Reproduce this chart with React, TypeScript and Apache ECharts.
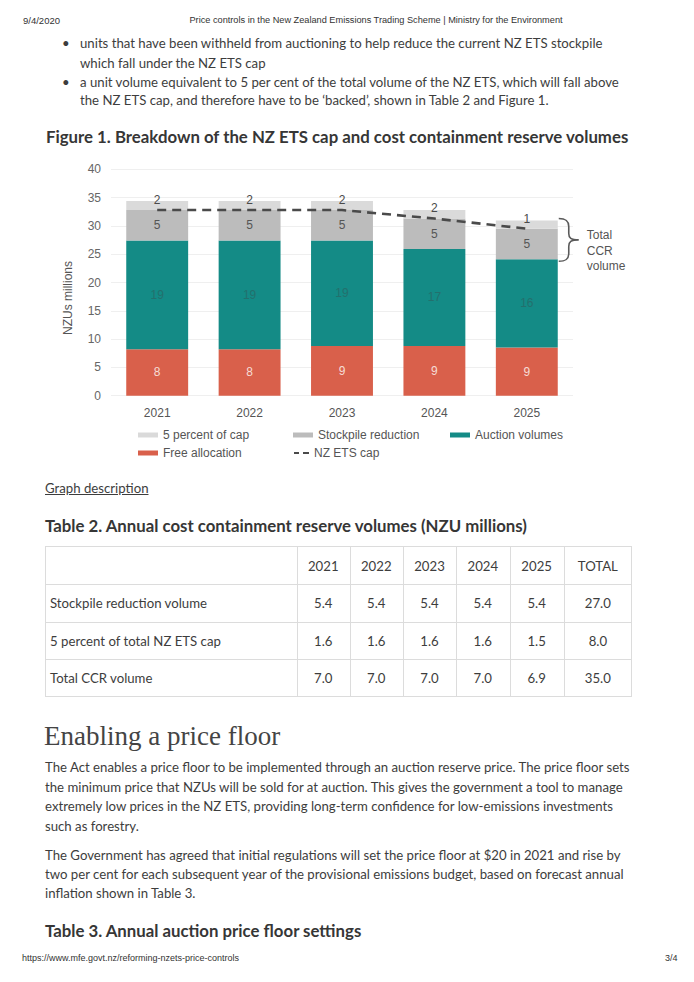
import React, { useEffect, useRef } from "react";
import * as echarts from "echarts";

// ---------- chart data ----------
const years = ["2021", "2022", "2023", "2024", "2025"];
const freeAllocation = [8.2, 8.2, 8.8, 8.8, 8.5];
const auctionVolumes = [19.2, 19.2, 18.6, 17.1, 15.6];
const stockpileReduction = [5.4, 5.4, 5.4, 5.4, 5.4];
const fivePercentOfCap = [1.6, 1.6, 1.6, 1.5, 1.45];
const nzEtsCap = [32.8, 32.8, 32.8, 31.3, 29.5];

// ---------- table data ----------
const tableHeaders = ["2021", "2022", "2023", "2024", "2025", "TOTAL"];
const rowLabels = ["Stockpile reduction volume", "5 percent of total NZ ETS cap", "Total CCR volume"];
const stockpileRow = ["5.4", "5.4", "5.4", "5.4", "5.4", "27.0"];
const fivePctRow = ["1.6", "1.6", "1.6", "1.6", "1.5", "8.0"];
const totalRow = ["7.0", "7.0", "7.0", "7.0", "6.9", "35.0"];

// ---------- text ----------
const headerDate = "9/4/2020";
const headerTitle = "Price controls in the New Zealand Emissions Trading Scheme | Ministry for the Environment";
const bulletLines = [
  ["units that have been withheld from auctioning to help reduce the current NZ ETS stockpile", "which fall under the NZ ETS cap"],
  ["a unit volume equivalent to 5 per cent of the total volume of the NZ ETS, which will fall above", "the NZ ETS cap, and therefore have to be \u2018backed\u2019, shown in Table 2 and Figure 1."],
];
const para1 = [
  "The Act enables a price floor to be implemented through an auction reserve price. The price floor sets",
  "the minimum price that NZUs will be sold for at auction. This gives the government a tool to manage",
  "extremely low prices in the NZ ETS, providing long-term confidence for low-emissions investments",
  "such as forestry.",
];
const para2 = [
  "The Government has agreed that initial regulations will set the price floor at $20 in 2021 and rise by",
  "two per cent for each subsequent year of the provisional emissions budget, based on forecast annual",
  "inflation shown in Table 3.",
];

const SANS = "Lato, 'Noto Sans', sans-serif";
const ARIAL = "'Liberation Sans', Arial, sans-serif";
const TXT = "#3d3d3d";

const BRACE_D = "M0,0 C7,0 10,2 10,8 L10,15 C10,19.5 12,21.5 20,21.5 C12,21.5 10,23.5 10,28 L10,35 C10,41 7,43 0,43";
echarts.graphic.registerShape("brace", echarts.graphic.extendPath(BRACE_D, {}));

function Line({ x, y, size, text, font = SANS, weight = 400, color = TXT, h, style = {} }: any) {
  const lh = h || Math.round(size * 1.4);
  return (
    <div
      style={{
        position: "absolute",
        left: x,
        top: y - lh / 2,
        height: lh,
        lineHeight: lh + "px",
        fontSize: size,
        fontFamily: font,
        fontWeight: weight,
        color,
        whiteSpace: "nowrap",
        ...style,
      }}
    >
      {text}
    </div>
  );
}

function Chart() {
  const ref = useRef<HTMLDivElement>(null);
  useEffect(() => {
    if (!ref.current) return;
    const chart = echarts.init(ref.current, null, { renderer: "svg" });
    const round = (p: any) => String(Math.round(p.value));
    const legendText = { color: "#555", fontSize: 12, fontFamily: ARIAL };
    const mkLegend = (name: string, left: number, top: number, extra: any = {}) => ({
      data: [name],
      left,
      top,
      padding: 0,
      itemWidth: 20,
      itemHeight: 5,
      textStyle: legendText,
      selectedMode: false,
      ...extra,
    });
    chart.setOption({
      animation: false,
      grid: { left: 111, right: 121, top: 19.3, height: 226.4 },
      legend: [
        mkLegend("5 percent of cap", 138, 279, { icon: "rect" }),
        mkLegend("Stockpile reduction", 293, 279, { icon: "rect" }),
        mkLegend("Auction volumes", 450, 279, { icon: "rect" }),
        mkLegend("Free allocation", 138, 297, { icon: "rect" }),
        mkLegend("NZ ETS cap", 294, 297, {
          icon: "path://M0,0h5v2h-5z M9,0h6v2h-6z",
          itemWidth: 15,
          itemHeight: 2.5,
        }),
      ],
      xAxis: {
        type: "category",
        data: years,
        axisLine: { show: false },
        axisTick: { show: false },
        axisLabel: { color: "#555", fontSize: 12, fontFamily: ARIAL, margin: 11 },
      },
      yAxis: {
        type: "value",
        min: 0,
        max: 40,
        interval: 5,
        axisLabel: { color: "#666", fontSize: 12, fontFamily: ARIAL, margin: 10 },
        splitLine: { lineStyle: { color: "#efefef" } },
      },
      series: [
        {
          name: "Free allocation",
          type: "bar",
          stack: "cap",
          barCategoryGap: "33%",
          data: freeAllocation,
          itemStyle: { color: "#d9604b" },
          label: { show: true, position: "inside", color: "#f6dcd5", fontSize: 12, fontFamily: ARIAL, formatter: round },
        },
        {
          name: "Auction volumes",
          type: "bar",
          stack: "cap",
          data: auctionVolumes,
          itemStyle: { color: "#148b86" },
          label: { show: true, position: "inside", color: "#23706d", fontSize: 12, fontFamily: ARIAL, formatter: round },
        },
        {
          name: "Stockpile reduction",
          type: "bar",
          stack: "cap",
          data: stockpileReduction,
          itemStyle: { color: "#bcbcbc" },
          label: { show: true, position: "inside", color: "#555", fontSize: 12, fontFamily: ARIAL, formatter: round },
        },
        {
          name: "5 percent of cap",
          type: "bar",
          stack: "cap",
          data: fivePercentOfCap,
          itemStyle: { color: "#dadada" },
          label: {
            show: true,
            position: "inside",
            offset: [0, -6],
            color: "#4a4a4a",
            fontSize: 12,
            fontFamily: ARIAL,
            formatter: round,
          },
        },
        {
          name: "NZ ETS cap",
          type: "line",
          data: nzEtsCap,
          symbol: "none",
          z: 10,
          itemStyle: { color: "#4a4a4a" },
          lineStyle: { color: "#4a4a4a", width: 2.6, type: [9, 6] },
        },
      ],
    });

    // annotation: brace round the CCR part of the last bar
    const last = years.length - 1;
    const cA = chart.convertToPixel({ xAxisIndex: 0, yAxisIndex: 0 }, [years[last - 1], 0]) as number[];
    const cB = chart.convertToPixel({ xAxisIndex: 0, yAxisIndex: 0 }, [years[last], 0]) as number[];
    const band = cB[0] - cA[0];
    const topVal = freeAllocation[last] + auctionVolumes[last] + stockpileReduction[last] + fivePercentOfCap[last];
    const botVal = freeAllocation[last] + auctionVolumes[last];
    const yTop = (chart.convertToPixel({ yAxisIndex: 0 }, topVal) as number) - 2;
    const yBot = (chart.convertToPixel({ yAxisIndex: 0 }, botVal) as number) + 2;
    const bx = cB[0] + band * 0.335 + 1;
    chart.setOption({
      graphic: [
        {
          type: "brace",
          x: bx,
          y: yTop,
          scaleX: 1,
          scaleY: (yBot - yTop) / 43,
          style: { fill: "none", stroke: "#5a5a5a", lineWidth: 1.6 },
        },
        {
          type: "text",
          x: bx + 28,
          y: yTop + 9,
          style: {
            text: "Total\nCCR\nvolume",
            fill: "#555",
            fontSize: 12,
            fontFamily: ARIAL,
            lineHeight: 15.5,
            verticalAlign: "top",
          },
        },
        {
          type: "text",
          x: 68,
          y: 148,
          rotation: Math.PI / 2,
          style: {
            text: "NZUs millions",
            fill: "#555",
            fontSize: 12,
            fontFamily: ARIAL,
            align: "center",
            verticalAlign: "middle",
          },
        },
      ],
    });
    return () => chart.dispose();
  }, []);
  return <div ref={ref} style={{ position: "absolute", left: 0, top: 150, width: 694, height: 320 }} />;
}

export default function App() {
  const colX = [297, 349.5, 403, 456, 509.6, 563.7, 632];
  const rowY = [546, 583.5, 621.7, 659.3, 697];
  const rowsData = [stockpileRow, fivePctRow, totalRow];
  const border = "#dcdcdc";
  const bodySize = 13.2;
  const headSize = 16.8;
  return (
    <div style={{ position: "absolute", left: 0, top: 0, width: 694, height: 982, background: "#fff", overflow: "hidden" }}>
      {/* header */}
      <Line x={23} y={20} size={9.5} font={ARIAL} text={headerDate} color="#333" />
      <Line x={376} y={20} size={9.2} font={ARIAL} text={headerTitle} color="#333" style={{ transform: "translateX(-50%)" }} />

      {/* bullets */}
      {bulletLines.map((lines, i) =>
        lines.map((t, j) => {
          const y = [43.3, 62.7, 81.7, 100][i * 2 + j];
          return (
            <React.Fragment key={i + "-" + j}>
              {j === 0 && <Line x={62} y={y} size={bodySize} text={"\u2022"} />}
              <Line x={80} y={y} size={bodySize} text={t} />
            </React.Fragment>
          );
        })
      )}

      <Line x={46} y={137} size={headSize} weight={700} text="Figure 1. Breakdown of the NZ ETS cap and cost containment reserve volumes" color="#363636" />

      <Chart />

      <Line x={45} y={488} size={bodySize} text="Graph description" style={{ textDecoration: "underline" }} />

      <Line x={45} y={526} size={headSize} weight={700} text="Table 2. Annual cost containment reserve volumes (NZU millions)" color="#363636" />

      {/* table 2 */}
      <div style={{ position: "absolute", left: 45, top: rowY[0], width: colX[6] - 45, height: rowY[4] - rowY[0], border: `1px solid ${border}`, boxSizing: "border-box" }} />
      {rowY.slice(1, 4).map((y, i) => (
        <div key={"h" + i} style={{ position: "absolute", left: 45, top: y, width: colX[6] - 45, height: 1, background: border }} />
      ))}
      {colX.slice(0, 6).map((x, i) => (
        <div key={"v" + i} style={{ position: "absolute", left: x, top: rowY[0], width: 1, height: rowY[4] - rowY[0], background: border }} />
      ))}
      {tableHeaders.map((t, i) => (
        <Line key={"th" + i} x={(colX[i] + colX[i + 1]) / 2} y={566} size={bodySize} text={t} style={{ transform: "translateX(-50%)" }} />
      ))}
      {rowsData.map((row, r) => {
        const y = [603.3, 641, 678.3][r];
        return (
          <React.Fragment key={"r" + r}>
            <Line x={50} y={y} size={bodySize} text={rowLabels[r]} />
            {row.map((v, i) => (
              <Line key={i} x={(colX[i] + colX[i + 1]) / 2} y={y} size={bodySize} text={v} style={{ transform: "translateX(-50%)" }} />
            ))}
          </React.Fragment>
        );
      })}

      <Line x={44} y={736} size={27} font="'Liberation Serif', 'DejaVu Serif', serif" text="Enabling a price floor" color="#444" h={34} />

      {para1.map((t, i) => (
        <Line key={"p1" + i} x={45} y={[767.3, 786.7, 806, 825.7][i]} size={bodySize} text={t} />
      ))}
      {para2.map((t, i) => (
        <Line key={"p2" + i} x={45} y={[855, 873.7, 892.7][i]} size={bodySize} text={t} />
      ))}

      <Line x={45} y={930.7} size={headSize} weight={700} text="Table 3. Annual auction price floor settings" color="#363636" />

      {/* footer */}
      <Line x={22} y={958} size={9} font={ARIAL} text="https://www.mfe.govt.nz/reforming-nzets-price-controls" color="#333" />
      <Line x={665} y={958} size={9} font={ARIAL} text="3/4" color="#333" />
    </div>
  );
}
